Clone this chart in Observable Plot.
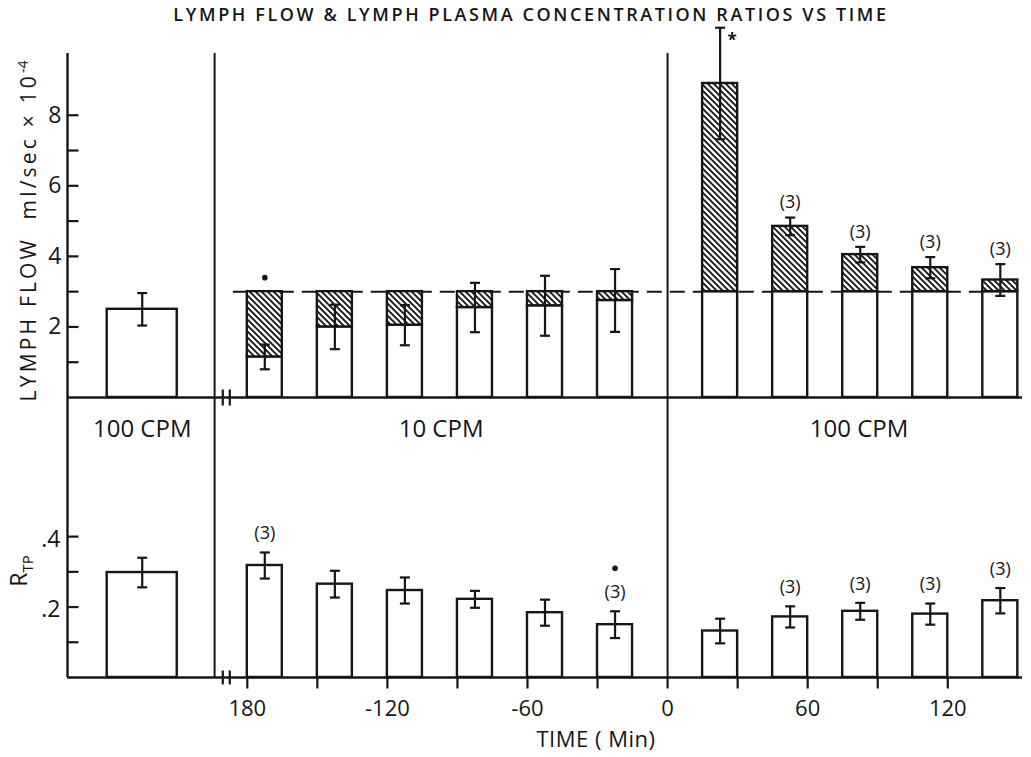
<!DOCTYPE html>
<html>
<head>
<meta charset="utf-8">
<script src="https://cdn.jsdelivr.net/npm/d3@7"></script>
<script src="https://cdn.jsdelivr.net/npm/@observablehq/plot@0.6"></script>
<style>
  body { margin: 0; background: #fff; }
  #wrap { position: relative; width: 1031px; height: 757px; overflow: hidden; background: #fff; font-family: "Open Sans", sans-serif; color: #161616; }
  #wrap svg { position: absolute; left: 0; }
  .lbl { position: absolute; white-space: nowrap; transform: translate(-50%, -50%); line-height: 1; }
  .rot { transform: translate(-50%, -50%) rotate(-90deg); }
</style>
</head>
<body>
<div id="wrap">
  <div class="lbl" id="title" style="left:531px;top:14px;font-size:18px;font-weight:600;letter-spacing:2.6px;">LYMPH FLOW &amp; LYMPH PLASMA CONCENTRATION RATIOS VS TIME</div>
  <div class="lbl rot" style="left:27px;top:231px;font-size:21px;letter-spacing:3.2px;">LYMPH FLOW&nbsp; ml/sec × 10<sup style="font-size:14px;letter-spacing:0">-4</sup></div>
  <div class="lbl rot" style="left:21px;top:571px;font-size:23px;">R<sub style="font-size:15px;">TP</sub></div>
  <div class="lbl" style="left:596px;top:738px;font-size:22px;letter-spacing:0.5px;">TIME ( Min)</div>
</div>
<script>
// ---------- data ----------
const xDomain = [-257, 152];            // minutes (left zone holds the broken-axis control bar)
const controlBar = [-240, -210];        // position of control bar in the broken zone
const barMinutes = 15;
const lowStarts = [-180, -150, -120, -90, -60, -30];   // 10 CPM period
const highStarts = [15, 45, 75, 105, 135];             // 100 CPM period
const sectionLines = [-194, 0];
const axisBreak = [-190.5, -187.5];
const flowBaseline = 3;
const dashSpan = [-186, 150];

const flowControl = 2.5, flowControlErr = 0.46;
const flowLow = [1.15, 2.0, 2.05, 2.55, 2.6, 2.75];
const flowLowErr = [0.35, 0.63, 0.57, 0.7, 0.85, 0.89];
const flowHigh = [8.9, 4.85, 4.05, 3.68, 3.33];
const flowHighErr = [1.58, 0.25, 0.22, 0.3, 0.45];
const flowHighN = ["", "(3)", "(3)", "(3)", "(3)"];

const rtpControl = 0.298, rtpControlErr = 0.042;
const rtpLow = [0.318, 0.265, 0.247, 0.222, 0.184, 0.150];
const rtpLowErr = [0.037, 0.038, 0.037, 0.024, 0.037, 0.038];
const rtpHigh = [0.132, 0.172, 0.188, 0.18, 0.218];
const rtpHighErr = [0.035, 0.03, 0.024, 0.03, 0.036];
const rtpLowN = ["(3)", "", "", "", "", "(3)"];
const rtpHighN = ["", "(3)", "(3)", "(3)", "(3)"];

const flowTicks = [1, 2, 3, 4, 5, 6, 7, 8];
const flowTickLabels = [2, 4, 6, 8];
const rtpTicks = [0.1, 0.2, 0.3, 0.4];
const rtpTickLabels = [[0.2, ".2"], [0.4, ".4"]];
const timeTicks = [-180, -150, -120, -90, -60, -30, 0, 30, 60, 90, 120];
const timeTickLabels = [[-180, "180"], [-120, "-120"], [-60, "-60"], [0, "0"], [60, "60"], [120, "120"]];
const regionLabels = [["100 CPM", -225], ["10 CPM", -97], ["100 CPM", 82]];

// ---------- build ----------
const ink = "#161616";
const font = "'Open Sans', sans-serif";
const rows = (ctrl, ctrlErr, low, lowErr, lowN, high, highErr, highN) => [
  {region: "control", x1: controlBar[0], x2: controlBar[1], v: ctrl, e: ctrlErr, n: ""},
  ...lowStarts.map((t, i) => ({region: "low", i, x1: t, x2: t + barMinutes, v: low[i], e: lowErr[i], n: lowN[i]})),
  ...highStarts.map((t, i) => ({region: "high", i, x1: t, x2: t + barMinutes, v: high[i], e: highErr[i], n: highN[i]}))
];
const flowRows = rows(flowControl, flowControlErr, flowLow, flowLowErr, ["", "", "", "", "", ""], flowHigh, flowHighErr, flowHighN);
const rtpRows = rows(rtpControl, rtpControlErr, rtpLow, rtpLowErr, rtpLowN, rtpHigh, rtpHighErr, rtpHighN);
const cx = d => (d.x1 + d.x2) / 2;

const sym = f => ({draw(ctx, size) { f(ctx, Math.sqrt(size / Math.PI)); }});
const hLine = sym((c, r) => { c.moveTo(-r, 0); c.lineTo(r, 0); });
const tickRight = sym((c, r) => { c.moveTo(0, 0); c.lineTo(r, 0); });
const tickDown = sym((c, r) => { c.moveTo(0, 0); c.lineTo(0, r); });
const vLine = sym((c, r) => { c.moveTo(0, -r); c.lineTo(0, r); });

function errorMarks(data, capR) {
  return [
    Plot.ruleX(data, {x: cx, y1: d => d.v - d.e, y2: d => d.v + d.e, stroke: ink, strokeWidth: 2.2}),
    Plot.dot(data, {x: cx, y: d => d.v + d.e, symbol: hLine, r: capR, fill: "none", stroke: ink, strokeWidth: 2.2}),
    Plot.dot(data, {x: cx, y: d => d.v - d.e, symbol: hLine, r: capR, fill: "none", stroke: ink, strokeWidth: 2.2})
  ];
}

const style = {fontFamily: font, background: "transparent", overflow: "visible", color: ink};

const topPlot = Plot.plot({
  width: 1031, height: 400,
  marginLeft: 67, marginRight: 9, marginTop: 53, marginBottom: 3,
  x: {domain: xDomain, axis: null},
  y: {domain: [0, 9.75], axis: null},
  style,
  marks: [
    Plot.ruleY([flowBaseline], {x1: dashSpan[0], x2: dashSpan[1], stroke: ink, strokeWidth: 2, strokeDasharray: "15,8"}),
    Plot.rectY(flowRows, {x1: "x1", x2: "x2", y1: 0, y2: d => d.region === "control" ? d.v : Math.min(d.v, flowBaseline), fill: "white", stroke: ink, strokeWidth: 2.4}),
    Plot.rectY(flowRows.filter(d => d.region !== "control"), {x1: "x1", x2: "x2", y1: d => Math.min(d.v, flowBaseline), y2: d => Math.max(d.v, flowBaseline), fill: "url(#hatch)", stroke: ink, strokeWidth: 2.4}),
    ...errorMarks(flowRows, 5),
    Plot.text(flowRows.filter(d => d.n), {x: cx, y: d => d.v + d.e, text: "n", dy: -15, fontSize: 18, fill: ink}),
    Plot.dot(flowRows.filter(d => d.region === "low" && d.i === 0), {x: cx, y: flowBaseline, dy: -14, r: 2.8, fill: ink, stroke: "none"}),
    Plot.text(flowRows.filter(d => d.region === "high" && d.i === 0), {x: cx, y: d => d.v + d.e, text: () => "*", dx: 12, dy: 13, fontSize: 17, fontWeight: "bold", fill: ink}),
    Plot.ruleX([xDomain[0]], {stroke: ink, strokeWidth: 2.4}),
    Plot.ruleX(sectionLines, {stroke: ink, strokeWidth: 2}),
    Plot.ruleY([0], {stroke: ink, strokeWidth: 2.4}),
    Plot.dot(axisBreak, {x: d => d, y: 0, symbol: vLine, r: 8, fill: "none", stroke: ink, strokeWidth: 2.2}),
    Plot.dot(flowTicks, {x: xDomain[0], y: d => d, symbol: tickRight, r: 11, fill: "none", stroke: ink, strokeWidth: 2.2}),
    Plot.text(flowTickLabels, {x: xDomain[0], y: d => d, text: d => String(d), dx: -6, textAnchor: "end", fontSize: 23, fill: ink})
  ]
});
d3.select(topPlot).insert("defs", ":first-child").html(
  '<pattern id="hatch" patternUnits="userSpaceOnUse" width="6" height="6">' +
  '<rect width="6" height="6" fill="white"/>' +
  '<path d="M0,0L6,6M-1,5L1,7M5,-1L7,1" stroke="#161616" stroke-width="1.9"/></pattern>'
);
topPlot.style.top = "0px";

const botPlot = Plot.plot({
  width: 1031, height: 367,
  marginLeft: 67, marginRight: 9, marginTop: 7, marginBottom: 80,
  x: {domain: xDomain, axis: null},
  y: {domain: [0, 0.795], axis: null},
  style,
  marks: [
    Plot.rectY(rtpRows, {x1: "x1", x2: "x2", y1: 0, y2: "v", fill: "white", stroke: ink, strokeWidth: 2.4}),
    ...errorMarks(rtpRows, 5),
    Plot.text(rtpRows.filter(d => d.n), {x: cx, y: d => d.v + d.e, text: "n", dy: -19, fontSize: 18, fill: ink}),
    Plot.dot(rtpRows.filter(d => d.region === "low" && d.i === 5), {x: cx, y: d => d.v + d.e, dy: -43, r: 2.8, fill: ink, stroke: "none"}),
    Plot.ruleX([xDomain[0]], {stroke: ink, strokeWidth: 2.4}),
    Plot.ruleX(sectionLines, {stroke: ink, strokeWidth: 2}),
    Plot.ruleY([0], {stroke: ink, strokeWidth: 2.4}),
    Plot.dot(axisBreak, {x: d => d, y: 0, symbol: vLine, r: 7, fill: "none", stroke: ink, strokeWidth: 2.2}),
    Plot.dot(rtpTicks, {x: xDomain[0], y: d => d, symbol: tickRight, r: 11, fill: "none", stroke: ink, strokeWidth: 2.2}),
    Plot.text(rtpTickLabels, {x: xDomain[0], y: d => d[0], text: d => d[1], dx: -7, dy: 3, textAnchor: "end", fontSize: 23, fill: ink}),
    Plot.dot(timeTicks, {x: d => d, y: 0, symbol: tickDown, r: 11, fill: "none", stroke: ink, strokeWidth: 2.2}),
    Plot.text(timeTickLabels, {x: d => d[0], y: 0, text: d => d[1], dy: 31, fontSize: 22, fill: ink}),
    Plot.text(regionLabels, {x: d => d[1], text: d => d[0], frameAnchor: "top", dy: 22, fontSize: 24, fill: ink})
  ]
});
botPlot.style.top = "390px";

const wrap = document.getElementById("wrap");
wrap.insertBefore(botPlot, wrap.firstChild);
wrap.insertBefore(topPlot, wrap.firstChild);
</script>
</body>
</html>
